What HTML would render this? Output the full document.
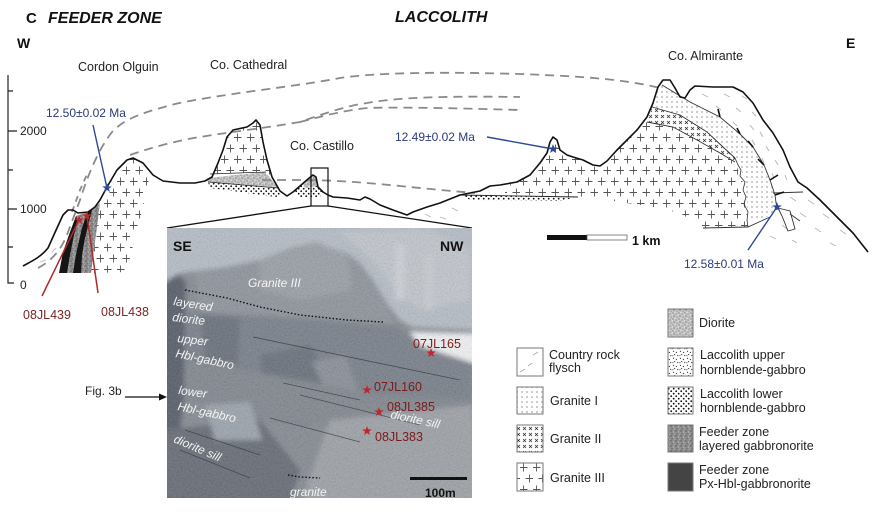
<!DOCTYPE html>
<html><head><meta charset="utf-8"><style>
html,body{margin:0;padding:0;background:#fff;}
svg{display:block;}
text{font-family:"Liberation Sans",Arial,sans-serif;}
</style></head><body>
<svg width="887" height="516" viewBox="0 0 887 516" xmlns="http://www.w3.org/2000/svg">
<defs>
<pattern id="plus" width="13" height="22" patternUnits="userSpaceOnUse"><path d="M-0.5,5.5h8M3.5,1.5v8M5.5,16.5h8M9.5,12.5v8" stroke="#555" stroke-width="0.9" fill="none"/></pattern>
<pattern id="g1" width="5" height="5" patternUnits="userSpaceOnUse"><path d="M1,1l2,2M3,1l-2,2" stroke="#9a9a9a" stroke-width="0.5"/></pattern>
<pattern id="g2" width="6" height="6" patternUnits="userSpaceOnUse"><path d="M1,1l3,3M4,1l-3,3" stroke="#333" stroke-width="0.8"/></pattern>
<pattern id="dots" width="5" height="5" patternUnits="userSpaceOnUse"><circle cx="1.2" cy="1.2" r="0.9" fill="#111"/><circle cx="3.7" cy="3.7" r="0.9" fill="#111"/></pattern>
<pattern id="specks" width="7" height="7" patternUnits="userSpaceOnUse"><rect width="7" height="7" fill="#fff"/><path d="M1,1l1,0.6M4,2l0.8,1M2,4.5l1.2,0.3M5.5,5l0.6,1M0.5,6l0.8,-0.5" stroke="#222" stroke-width="0.9"/></pattern>
<pattern id="speck" width="6" height="6" patternUnits="userSpaceOnUse"><rect width="6" height="6" fill="#c4c4c4"/><circle cx="1" cy="1" r="0.6" fill="#777"/><circle cx="4" cy="2" r="0.5" fill="#666"/><circle cx="2" cy="4" r="0.7" fill="#7a7a7a"/><circle cx="5" cy="5" r="0.5" fill="#666"/><circle cx="3" cy="0.6" r="0.5" fill="#fff"/><circle cx="0.6" cy="3" r="0.5" fill="#fff"/><circle cx="4.5" cy="4" r="0.4" fill="#eee"/></pattern>
<pattern id="feed" width="5" height="5" patternUnits="userSpaceOnUse"><rect width="5" height="5" fill="#8e8e8e"/><circle cx="1" cy="1" r="0.6" fill="#444"/><circle cx="3.5" cy="2" r="0.5" fill="#d8d8d8"/><circle cx="2" cy="3.8" r="0.6" fill="#555"/><circle cx="4.3" cy="4.3" r="0.4" fill="#ccc"/><circle cx="0.5" cy="3" r="0.4" fill="#bbb"/></pattern>
<path id="star" d="M0,-5 L1.18,-1.62 L4.76,-1.55 L1.9,0.62 L2.94,4.05 L0,2 L-2.94,4.05 L-1.9,0.62 L-4.76,-1.55 L-1.18,-1.62 Z"/>
<clipPath id="pc"><rect x="167" y="228" width="305" height="270"/></clipPath>
<filter id="bl" x="-5%" y="-5%" width="110%" height="110%"><feGaussianBlur stdDeviation="2.5"/></filter>
<filter id="nz" x="0" y="0" width="100%" height="100%"><feTurbulence type="fractalNoise" baseFrequency="0.6" numOctaves="3" seed="4"/><feColorMatrix type="matrix" values="0.5 0.5 0.5 0 -0.25 0.5 0.5 0.5 0 -0.25 0.5 0.5 0.5 0 -0.25 0 0 0 0 1"/></filter>
</defs>

<!-- titles -->
<text x="26" y="23" font-size="15" font-weight="bold" fill="#111">C</text>
<text x="48" y="23" font-size="16" font-weight="bold" font-style="italic" fill="#111">FEEDER ZONE</text>
<text x="395" y="22" font-size="16" font-weight="bold" font-style="italic" fill="#111">LACCOLITH</text>
<text x="17" y="48" font-size="14" font-weight="bold" fill="#111">W</text>
<text x="846" y="48" font-size="14" font-weight="bold" fill="#111">E</text>

<!-- axis -->
<path d="M8,75V283H14M8,91H13M8,131H17M8,170H13M8,209H17M8,247H13" stroke="#222" stroke-width="1.2" fill="none"/>
<text x="20" y="135" font-size="12" fill="#222">2000</text>
<text x="20" y="213" font-size="12" fill="#222">1000</text>
<text x="20" y="289" font-size="12" fill="#222">0</text>

<!-- fills -->
<polygon points="100,203 107,187 117,170 127,160 133,158 143,163 150,172 147,190 141,215 133,245 128,272 91,273" fill="url(#plus)"/>
<polygon points="213,175 218,163 223,150 227,137 233,130 247,127 253,123 256,120 260,125 263,142 267,160 272,177 265,172 212,174" fill="url(#plus)"/>
<polygon points="505,186 517,182 530,175 540,163 547,153 550,142 553,137 557,140 560,150 567,155 573,157 583,160 593,165 600,166 607,161 617,150 627,140 637,130 647,117 650,118 647,122 673,127 697,140 720,153 735,162 738,170 742,180 745,190 744,200 747,210 748,227 703,228 680,213 653,207 607,200 577,197 560,197 505,194" fill="url(#plus)"/>
<!-- granite I -->
<polygon points="658,87 662,85 690,102 720,117 740,134 753,147 764,165 770,180 775,195 777,210 770,216 750,221 748,220 747,200 744,190 745,180 741,170 738,162 735,158 723,147 707,132 680,115 652,107 653,103" fill="url(#g1)"/>
<!-- granite II -->
<polygon points="652,107 680,115 707,132 723,147 735,158 735,162 720,153 697,140 673,127 647,122" fill="url(#g2)"/>
<!-- feeder -->
<polygon points="76,216 88,212 95,207 100,203 91,273 59,273" fill="url(#feed)"/>
<polygon points="59,273 67,273 70,255 74,235 78,221 76,216 70,232 63,252" fill="#151515"/>
<polygon points="73,273 81,273 82,255 85,238 89,222 92,210 87,213 82,228 78,245 75,260" fill="#151515"/>
<!-- laccolith bands cathedral -->
<polygon points="207,178 265,172 272,180 278,188 240,184 208,182" fill="url(#speck)"/>
<polygon points="208,182 240,184 278,188 283,194 276,197 240,192 210,188" fill="url(#dots)"/>
<path d="M210,174 L266,172 M208,182 L278,188" stroke="#222" stroke-width="0.7" fill="none"/>
<!-- castillo -->
<polygon points="293,192 300,186 308,179 313,175 316,177 318,187 323,192 320,197 300,197" fill="url(#dots)"/>
<polygon points="303,184 313,176 316,178 317,186 305,188" fill="url(#speck)"/>
<!-- base right laccolith -->
<polygon points="462,195 577,197 560,201 470,200" fill="url(#dots)"/>
<path d="M458,195 L578,197" stroke="#222" stroke-width="0.9"/>

<!-- dashed projected contacts -->
<g stroke="#8a8a8a" stroke-width="1.8" fill="none" stroke-dasharray="9 6">
<path d="M38,268 C50,262 62,250 68,232 L80,200 C88,175 98,150 112,132 C125,118 145,112 175,104 C220,94 300,86 340,78 C380,72 450,72 520,74 C570,76 620,78 660,88"/>
<path d="M130,155 C150,148 175,141 200,137 C230,132 265,128 300,122 C320,115 345,106 367,103 C400,97 450,96 520,97 C560,98 600,99 C620,100 640,106 653,112"/>
<path d="M300,122 C320,117 340,111 367,108 C400,107 450,108 520,110 C560,111 600,113 C620,115 635,119 645,123"/>
<path d="M262,180 L300,180 C330,180 360,182 400,186 C430,189 450,191 475,193"/>
<path d="M72,212 L80,190 L88,172" stroke-dasharray="6 5"/>
</g>

<!-- flysch dashes -->
<g stroke="#b5b5b5" stroke-width="0.9" fill="none">
<path d="M702,94l6,3M724,94l6,3M742,96l5,3M716,106l5,4M736,108l5,4M752,112l4,4M733,122l4,4M750,125l4,5M760,132l3,5M752,140l3,5M766,146l3,5M762,158l2,5M775,160l3,5M772,173l2,5M785,175l2,5M790,197l6,4M808,200l6,4M800,213l6,4M823,214l6,4M815,228l6,4M840,230l6,4M830,243l6,3M782,225l5,4M770,236l6,3M792,240l5,3M40,262l6,-2M52,252l4,-4M425,214l6,3M440,217l6,2M452,208l6,3"/>
</g>

<!-- granite boundaries -->
<g stroke="#333" stroke-width="0.9" fill="none">
<path d="M662,85 L690,102 L720,117 L740,134 L753,147 L764,165 L770,180 L775,195 L777,210"/>
<path d="M652,107 L680,115 L707,132 L723,147 L735,158"/>
<path d="M647,122 L673,127 L697,140 L720,153 L735,162"/>
<path d="M735,158 L738,165 L741,170 L740,176 L745,182 L743,190 L746,197 L744,204 L748,212 L747,220 L748,227" stroke-width="0.8"/>
<path d="M703,228 L748,227 L770,217"/>
<path d="M773,193 L803,192"/>
<path d="M778,208 L790,211 L795,229 L788,231 L782,216 Z" fill="#fff"/>
<path d="M790,214 L800,221"/>
</g>
<g stroke="#111" stroke-width="1.6">
<path d="M720,117l-2,-8M740,134l-3,-6M753,147l-5,-6M764,165l-6,-6M770,180l8,-5M775,195l9,-3"/>
</g>

<!-- profile -->
<path d="M23,266 C30,262 40,258 48,248 L57,228 L63,215 L68,210 L73,210 L78,213 L88,212 L95,207 L100,200 L107,187 L117,170 L127,160 L133,158 L143,163 L153,175 L163,181 L180,183 L195,183 L205,181 L212,177 L218,163 L223,150 L227,137 L233,130 L247,127 L253,123 L256,120 L260,125 L263,142 L267,160 L272,177 L280,191 L287,196 L293,192 L300,186 L308,179 L313,175 L316,177 L318,187 L323,192 L328,195 L333,197 L347,198 L360,200 L365,197 L370,199 L380,205 L393,210 L407,215 L413,212 L427,207 L440,203 L460,195 L480,191 L490,186 L500,185 L517,182 L530,175 L540,163 L547,153 L550,142 L553,137 L557,140 L560,150 L567,155 L573,157 L583,160 L593,165 L600,166 L607,161 L617,150 L627,140 L637,130 L647,117 L653,103 L658,87 L663,80 L670,80 L675,88 L680,97 L685,98 L690,90 L695,86 L713,87 L733,87 L743,92 L753,103 L763,120 L773,133 L783,150 L790,167 L798,182 L807,188 L820,200 L837,217 L853,233 L868,252" stroke="#111" stroke-width="1.6" fill="none" stroke-linejoin="round"/>

<!-- castillo box and lines to photo -->
<rect x="311" y="168" width="17" height="38" fill="none" stroke="#111" stroke-width="1.2"/>
<path d="M167,228 L311,206 M328,206 L472,228" stroke="#111" stroke-width="1.3" fill="none"/>

<!-- labels -->
<text x="78" y="71" font-size="12.5" fill="#222">Cordon Olguin</text>
<text x="210" y="69" font-size="12.5" fill="#222">Co. Cathedral</text>
<text x="290" y="150" font-size="12.5" fill="#222">Co. Castillo</text>
<text x="668" y="60" font-size="12.5" fill="#222">Co. Almirante</text>
<text x="46" y="117" font-size="12" fill="#2b3a7a">12.50±0.02 Ma</text>
<text x="395" y="141" font-size="12" fill="#2b3a7a">12.49±0.02 Ma</text>
<text x="684" y="268" font-size="12" fill="#2b3a7a">12.58±0.01 Ma</text>
<g stroke="#2b4a94" stroke-width="1.4"><path d="M93,125 L107,188 M487,137 L553,149 M748,250 L777,207"/></g>
<g fill="#2b4a9a"><use href="#star" x="107" y="188"/><use href="#star" x="553" y="149"/><use href="#star" x="777" y="207"/></g>
<g stroke="#b02a2a" stroke-width="1.5"><path d="M42,296 L79,220 M98,293 L87,216"/></g>
<g fill="#c0262a"><use href="#star" x="79" y="220"/><use href="#star" x="87" y="216"/></g>
<text x="23" y="319" font-size="12.5" fill="#7d2424">08JL439</text>
<text x="101" y="316" font-size="12.5" fill="#7d2424">08JL438</text>

<text x="85" y="395" font-size="12" fill="#222">Fig. 3b</text>
<path d="M125,397 L161,397" stroke="#111" stroke-width="1.3"/>
<polygon points="167,397 159,393.5 159,400.5" fill="#111"/>

<!-- scale bar -->
<rect x="547" y="235" width="40" height="5" fill="#111"/>
<rect x="587" y="235" width="40" height="5" fill="#fff" stroke="#555" stroke-width="0.7"/>
<text x="632" y="245" font-size="12.5" font-weight="bold" fill="#111">1 km</text>

<!-- photo -->
<g clip-path="url(#pc)">
<g filter="url(#bl)">
<rect x="160" y="220" width="320" height="285" fill="#80868f"/>
<polygon points="160,220 480,220 480,330 413,327 400,320 387,303 373,280 360,263 347,253 327,247 317,242 293,247 260,260 227,267 180,273 160,285" fill="#b4bbc5"/>
<polygon points="340,232 430,230 470,250 470,300 420,310 395,290 375,262" fill="#c0c5cc"/>
<rect x="395" y="245" width="10" height="55" fill="#ccd0d6"/>
<rect x="425" y="255" width="8" height="55" fill="#c8ccd2"/>
<polygon points="195,272 227,267 260,260 293,247 317,242 327,247 347,253 360,263 373,280 387,303 395,325 300,318 200,312" fill="#8a9099"/>
<polygon points="260,260 293,247 317,242 327,247 347,253 352,290 300,300 260,290" fill="#969ca4"/>
<polygon points="160,285 178,274 186,282 184,400 176,470 160,500" fill="#4f5663"/>
<polygon points="186,312 300,318 395,325 420,345 472,360 472,400 380,395 300,380 240,370 186,360" fill="#737a85"/>
<polygon points="200,315 240,318 238,365 205,360" fill="#636a76"/>
<polygon points="260,355 310,345 330,380 310,425 265,420" fill="#646b76"/>
<polygon points="312,362 345,355 360,395 335,410" fill="#858b94"/>
<polygon points="186,360 300,380 380,395 472,400 472,430 330,425 260,420 186,400" fill="#7c828b"/>
<polygon points="330,420 472,405 480,505 300,505" fill="#9a9ea4"/>
<polygon points="160,430 260,420 300,470 290,505 160,505" fill="#5f6570"/>
<polygon points="205,405 250,402 262,440 215,440" fill="#98a0aa"/>
<polygon points="410,332 480,334 480,365 445,354 420,346" fill="#f2f3f5"/>
</g>
<rect x="167" y="228" width="305" height="270" filter="url(#nz)" opacity="0.18"/>
<g stroke="#3a3e46" stroke-width="0.8" fill="none" opacity="0.8">
<path d="M253,337 L460,380 M283,383 L360,400 M270,418 L360,442 M300,395 L420,425 M185,430 L260,455 M180,450 L250,478"/>
</g>
<path d="M185,290 L227,298 L260,307 L300,315 L347,320 L383,322" stroke="#111" stroke-width="1.4" stroke-dasharray="1.5 2" fill="none"/>
<path d="M288,475 L300,477 L320,478" stroke="#111" stroke-width="1.4" stroke-dasharray="1.5 2" fill="none"/>
</g>
<text x="173" y="251" font-size="14" font-weight="bold" fill="#111">SE</text>
<text x="440" y="251" font-size="14" font-weight="bold" fill="#111">NW</text>
<g fill="#f4f4f4" font-size="12" font-style="italic">
<text x="248" y="287">Granite III</text>
<text x="173" y="305" transform="rotate(9 173 305)">layered</text>
<text x="172" y="321" transform="rotate(7 172 321)">diorite</text>
<text x="177" y="342" transform="rotate(7 177 342)">upper</text>
<text x="175" y="357" transform="rotate(12 175 357)">Hbl-gabbro</text>
<text x="178" y="394" transform="rotate(8 178 394)">lower</text>
<text x="177" y="410" transform="rotate(12 177 410)">Hbl-gabbro</text>
<text x="173" y="442" transform="rotate(23 173 442)">diorite sill</text>
<text x="390" y="418" transform="rotate(12 390 418)">diorite sill</text>
<text x="290" y="496">granite</text>
</g>
<g fill="#7a1c1c" font-size="12.5">
<text x="413" y="348">07JL165</text>
<text x="374" y="391">07JL160</text>
<text x="387" y="411">08JL385</text>
<text x="375" y="441">08JL383</text>
</g>
<g fill="#c0262a"><use href="#star" x="431" y="353"/><use href="#star" x="367" y="390"/><use href="#star" x="379" y="412"/><use href="#star" x="367" y="431"/></g>
<rect x="410" y="477" width="57" height="3" fill="#111"/>
<text x="425" y="497" font-size="12" font-weight="bold" fill="#111">100m</text>

<!-- legend -->
<g stroke="#777" stroke-width="1">
<rect x="517" y="348" width="26" height="28" fill="#fff"/>
<rect x="517" y="387" width="26" height="27" fill="url(#g1)"/>
<rect x="517" y="425" width="26" height="27" fill="url(#g2)"/>
<rect x="517" y="463" width="26" height="28" fill="url(#plus)"/>
<rect x="668" y="309" width="25" height="28" fill="url(#speck)"/>
<rect x="668" y="348" width="25" height="28" fill="url(#specks)"/>
<rect x="668" y="387" width="25" height="27" fill="#fff"/>
<rect x="668" y="387" width="25" height="27" fill="url(#dots)"/>
<rect x="668" y="425" width="25" height="27" fill="url(#feed)"/>
<rect x="668" y="463" width="25" height="28" fill="#444"/>
</g>
<path d="M533,355l5,-3M520,372l5,-3M528,366l4,-3" stroke="#aaa" stroke-width="0.8"/>
<g fill="#222" font-size="12.5">
<text x="549" y="359">Country rock</text>
<text x="549" y="372">flysch</text>
<text x="550" y="405">Granite I</text>
<text x="550" y="443">Granite II</text>
<text x="550" y="482">Granite III</text>
<text x="699" y="327">Diorite</text>
<text x="700" y="359">Laccolith upper</text>
<text x="700" y="374">hornblende-gabbro</text>
<text x="700" y="398">Laccolith lower</text>
<text x="700" y="412">hornblende-gabbro</text>
<text x="699" y="436">Feeder zone</text>
<text x="699" y="450">layered gabbronorite</text>
<text x="699" y="474">Feeder zone</text>
<text x="699" y="488">Px-Hbl-gabbronorite</text>
</g>
</svg>
</body></html>
